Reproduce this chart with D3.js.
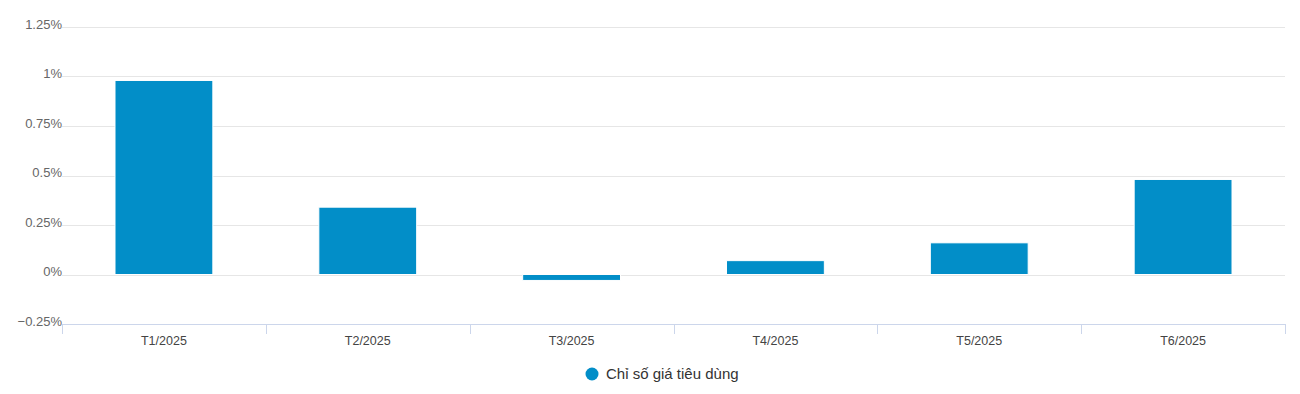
<!DOCTYPE html>
<html>
<head>
<meta charset="utf-8">
<script src="https://cdn.jsdelivr.net/npm/d3@7"></script>
<style>
  body { margin: 0; background: #fff; }
  svg { display: block; font-family: "Liberation Sans", Arial, Helvetica, sans-serif; }
</style>
</head>
<body>
<svg id="chart"></svg>
<script>
// data
const months = ['T1/2025', 'T2/2025', 'T3/2025', 'T4/2025', 'T5/2025', 'T6/2025'];
const cpi = [0.98, 0.34, -0.03, 0.07, 0.16, 0.48];
const yTicks = [-0.25, 0, 0.25, 0.5, 0.75, 1, 1.25];
const seriesName = 'Chỉ số giá tiêu dùng';

const W = 1300, H = 394;
const margin = { top: 27, right: 15, bottom: 70, left: 62 };
const width = W - margin.left - margin.right;
const height = H - margin.top - margin.bottom;
const barColor = '#028ec8';

const svg = d3.select('#chart').attr('width', W).attr('height', H);
const g = svg.append('g').attr('transform', `translate(${margin.left},${margin.top})`);

// scales
const y = d3.scaleLinear().domain([-0.25, 1.25]).range([height, 0]);
const xCat = d3.scaleBand().domain(months).range([0, width]);
const xBar = d3.scaleBand().domain(months).range([0, width])
  .paddingInner(0.52).paddingOuter(0.26);

// gridlines
g.append('g')
  .selectAll('line')
  .data(yTicks.filter(t => t !== -0.25))
  .enter().append('line')
  .attr('x1', 0).attr('x2', width)
  .attr('y1', d => Math.round(y(d)) + 0.5)
  .attr('y2', d => Math.round(y(d)) + 0.5)
  .attr('stroke', '#e6e6e6');

// y labels
g.append('g')
  .selectAll('text')
  .data(yTicks)
  .enter().append('text')
  .attr('x', 0)
  .attr('y', d => y(d) + 1.5)
  .attr('text-anchor', 'end')
  .attr('font-size', 13)
  .attr('fill', '#666')
  .text(d => d3.format('~g')(d) + '%');

// bars
g.append('g')
  .selectAll('rect')
  .data(cpi)
  .enter().append('rect')
  .attr('x', (d, i) => xBar(months[i]))
  .attr('width', xBar.bandwidth())
  .attr('y', d => y(Math.max(0, d)))
  .attr('height', d => Math.abs(y(d) - y(0)))
  .attr('fill', barColor)
  .attr('stroke', '#fff')
  .attr('stroke-width', 1);

// x axis (line + tick at each band edge)
const xAxis = g.append('g').attr('transform', `translate(0,${height})`);
xAxis.append('line')
  .attr('x1', 0).attr('x2', width)
  .attr('y1', 0.5).attr('y2', 0.5)
  .attr('stroke', '#ccd6eb');
const edges = months.map(m => xCat(m)).concat([width]);
xAxis.selectAll('.tick')
  .data(edges)
  .enter().append('line')
  .attr('x1', d => Math.round(d) + 0.5).attr('x2', d => Math.round(d) + 0.5)
  .attr('y1', 0).attr('y2', 10)
  .attr('stroke', '#ccd6eb');
xAxis.selectAll('text')
  .data(months)
  .enter().append('text')
  .attr('x', d => xCat(d) + xCat.bandwidth() / 2)
  .attr('y', 20.5)
  .attr('text-anchor', 'middle')
  .attr('font-size', 12.5)
  .attr('fill', '#444')
  .text(d => d);

// legend
const legend = svg.append('g').attr('transform', 'translate(592,374)');
legend.append('circle').attr('r', 6.5).attr('fill', barColor);
legend.append('text')
  .attr('x', 14).attr('y', 5)
  .attr('font-size', 15)
  .attr('fill', '#333')
  .text(seriesName);
</script>
</body>
</html>
